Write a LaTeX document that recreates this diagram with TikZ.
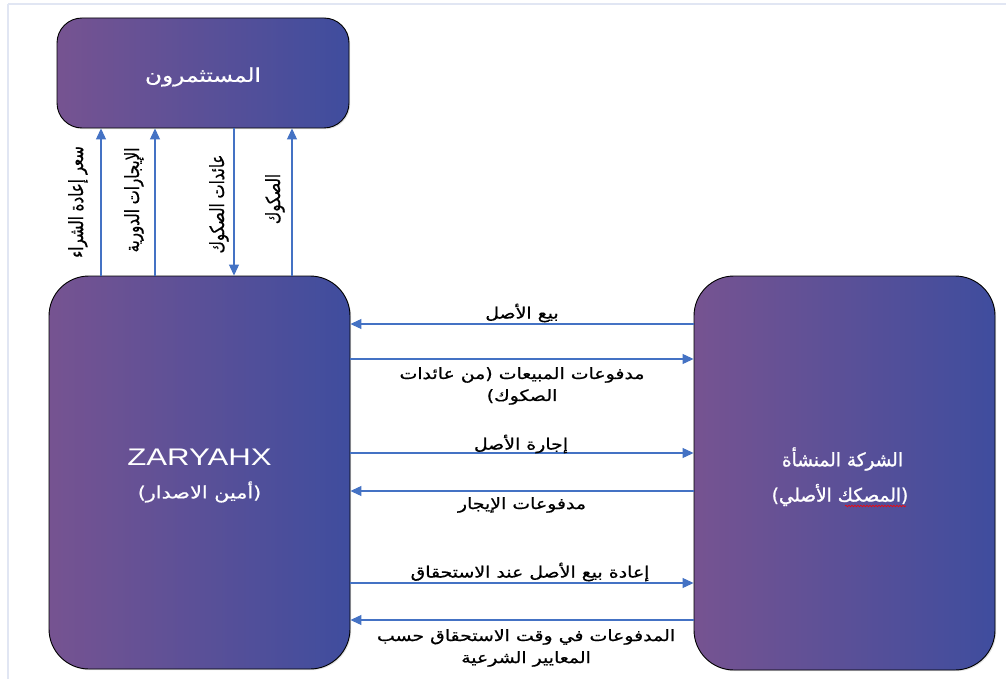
\documentclass[tikz,border=0pt]{standalone}
\usepackage{fontspec}
\setmainfont{Liberation Sans}
\newfontfamily\ar[Script=Arabic, FakeStretch=1.22, FakeBold=0.7]{DejaVu Sans}
\newfontfamily\arv[Script=Arabic, FakeStretch=0.77, FakeBold=0.6]{DejaVu Sans}
\newfontfamily\arn[Script=Arabic, FakeBold=1.2]{DejaVu Sans}
\newfontfamily\zf[FakeStretch=1.3]{Liberation Sans}
\TeXXeTstate=1
\usetikzlibrary{arrows.meta,shadows,decorations.pathmorphing}
\definecolor{pl}{RGB}{118,83,145}
\definecolor{pr}{RGB}{63,77,158}
\definecolor{ab}{RGB}{68,114,196}
\definecolor{fr}{RGB}{225,230,243}
\begin{document}
\begin{tikzpicture}[x=1pt,y=-1pt,
  box/.style={draw=black, line width=0.9pt, left color=pl, right color=pr,
    rounded corners=#1, inner sep=0pt,
    drop shadow={opacity=0.25, shadow xshift=1.2pt, shadow yshift=-1.2pt}},
  btxt/.style={text=white, inner sep=0pt},
  arr/.style={draw=ab, line width=1.1pt, -{Triangle[length=11pt,width=10pt]}},
  lbl/.style={font=\ar\fontsize{15.5}{22}\selectfont, align=center, inner sep=0pt},
  vlbl/.style={font=\arv\fontsize{19.5}{22}\selectfont, inner sep=0pt, rotate=90},
]
\useasboundingbox (0,0) rectangle (1006,679);
\fill[white] (0,0) rectangle (1006,679);
\draw[fr, line width=1.5pt] (8,4) -- (1006,4);
\draw[fr, line width=1.5pt] (8,4) -- (8,679);

% boxes
\node[box=25pt, minimum width=292pt, minimum height=110pt] (inv) at (203,73) {};
\node[box=40pt, minimum width=301pt, minimum height=393pt] (zar) at (199.5,472.5) {};
\node[box=40pt, minimum width=301pt, minimum height=394pt] (org) at (844.5,473) {};

% box texts
\node[btxt, font=\ar\fontsize{19}{24}\selectfont] (inv-t) at ([yshift=-4pt]inv.center) {\beginR المستثمرون\endR};
\node[btxt, font=\zf\fontsize{24}{28}\selectfont] (zar-t1) at ([yshift=15.5pt]zar.center) {ZARYAHX};
\node[btxt, font=\ar\fontsize{17}{22}\selectfont] (zar-t2) at ([yshift=-19.5pt]zar.center) {\beginR (أمين الاصدار)\endR};
\node[btxt, font=\arn\fontsize{18.5}{22}\selectfont] (org-t1) at ([xshift=-2pt,yshift=14pt]org.center) {\beginR الشركة المنشأة\endR};
\node[btxt, font=\arn\fontsize{18.5}{22}\selectfont] (org-t2) at ([xshift=-4.5pt,yshift=-22pt]org.center) {\beginR (المصكك الأصلي)\endR};
\coordinate (w1) at (845,506);
\coordinate (w2) at (906,506);
\draw[red, line width=0.6pt, decorate, decoration={snake, amplitude=0.8pt, segment length=3pt}] (w1) -- (w2);

% vertical connectors
\coordinate (v1) at (101,0);
\coordinate (v2) at (155,0);
\coordinate (v3) at (234,0);
\coordinate (v4) at (292,0);
\draw[arr] (zar.north -| v1) -- (inv.south -| v1);
\draw[arr] (zar.north -| v2) -- (inv.south -| v2);
\draw[arr] (inv.south -| v3) -- (zar.north -| v3);
\draw[arr] (zar.north -| v4) -- (inv.south -| v4);
\node[vlbl] (t1) at (78,202) {\beginR سعر إعادة الشراء\endR};
\node[vlbl] (t2) at (134,200) {\beginR الإيجارات الدورية\endR};
\node[vlbl] (t3) at (219,204) {\beginR عائدات الصكوك\endR};
\node[vlbl] (t4) at (275,199) {\beginR الصكوك\endR};

% horizontal connectors
\coordinate (h1) at (0,324);
\coordinate (h2) at (0,359);
\coordinate (h3) at (0,453);
\coordinate (h4) at (0,491);
\coordinate (h5) at (0,583);
\coordinate (h6) at (0,620);
\draw[arr] (org.west |- h1) -- (zar.east |- h1);
\draw[arr] (zar.east |- h2) -- (org.west |- h2);
\draw[arr] (zar.east |- h3) -- (org.west |- h3);
\draw[arr] (org.west |- h4) -- (zar.east |- h4);
\draw[arr] (zar.east |- h5) -- (org.west |- h5);
\draw[arr] (org.west |- h6) -- (zar.east |- h6);
\node[lbl] (l1) at (522,313) {\beginR بيع الأصل\endR};
\node[lbl] (l2) at (522,386) {\beginR مدفوعات المبيعات (من عائدات\endR\\\beginR الصكوك)\endR};
\node[lbl] (l3) at (521,444) {\beginR إجارة الأصل\endR};
\node[lbl] (l4) at (522,505) {\beginR مدفوعات الإيجار\endR};
\node[lbl] (l5) at (530,572) {\beginR إعادة بيع الأصل عند الاستحقاق\endR};
\node[lbl] (l6) at (526,648) {\beginR المدفوعات في وقت الاستحقاق حسب\endR\\\beginR المعايير الشرعية\endR};
\end{tikzpicture}
\end{document}
